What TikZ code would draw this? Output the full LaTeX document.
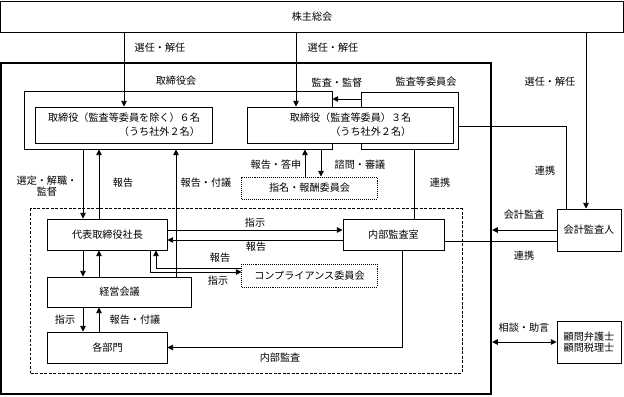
\documentclass[tikz,border=0pt]{standalone}
\usepackage{fontspec}
\setmainfont{Noto Sans CJK JP}
\usetikzlibrary{arrows.meta, positioning, calc}

\tikzset{
  box/.style={draw, line width=0.7pt, fill=white, inner sep=0pt, align=center},
  dotbox/.style={draw, line width=0.7pt, dash pattern=on 0.7pt off 0.7pt, fill=white, inner sep=0pt},
  lbl/.style={inner sep=0pt},
  arr/.style={-{Triangle[length=4pt,width=4pt]}, line width=0.6pt},
  dblarr/.style={{Triangle[length=4pt,width=4pt]}-{Triangle[length=4pt,width=4pt]}, line width=0.6pt},
  conn/.style={line width=0.6pt}
}

\begin{document}
\begin{tikzpicture}[x=0.025cm, y=-0.025cm, font=\fontsize{7.2pt}{10pt}\selectfont]
  \useasboundingbox (0,0) rectangle (624,396);

  % positions of the connector lines
  \coordinate (xa) at (83,0);   \coordinate (xb) at (99,0);
  \coordinate (xc) at (176,0);  \coordinate (xd) at (305,0);
  \coordinate (xe) at (321,0);  \coordinate (xf) at (296,0);
  \coordinate (xg) at (414,0);  \coordinate (xh) at (566,0);
  \coordinate (xi) at (586,0);  \coordinate (xj) at (150,0);
  \coordinate (xk) at (156,0);  \coordinate (xl) at (402,0);
  \coordinate (ya) at (0,99);   \coordinate (yb) at (0,126);
  \coordinate (yc) at (0,230);  \coordinate (yd) at (0,240);
  \coordinate (ye) at (0,268);  \coordinate (yf) at (0,272);
  \coordinate (yi) at (0,241);

  % Shareholders
  \node[box, minimum width=15.55cm, minimum height=0.775cm] (top) at (312,16.5) {株主総会};

  % Company frame
  \node[draw, line width=1.6pt, minimum width=12.25cm, minimum height=8.275cm, inner sep=0pt]
       (company) at (246,228.5) {};

  % Board and audit committee
  \node[box, minimum width=7.675cm, minimum height=1.45cm] (board) at (178.5,120) {};
  \node[box, minimum width=2.425cm, minimum height=1.425cm] (auditcom) at (409.5,120.5) {};
  \node[box, align=right, minimum width=4.4cm, minimum height=0.9cm] (dirsix) at (124,125)
       {取締役（監査等委員を除く）６名\\（うち社外２名）};
  \node[box, align=right, minimum width=5.125cm, minimum height=0.9cm] (dirthree) at (350.5,125)
       {取締役（監査等委員）３名\\（うち社外２名）};
  \node[dotbox, minimum width=3.375cm, minimum height=0.55cm] (nomcom) at (309.5,188)
       {指名・報酬委員会};

  % Executive group
  \node[draw, line width=0.7pt, dash pattern=on 2pt off 1.2pt, minimum width=10.775cm,
        minimum height=4.1cm, inner sep=0pt] (group) at (246.5,291) {};
  \node[box, minimum width=2.975cm, minimum height=0.775cm] (pres) at (107.5,234.5) {代表取締役社長};
  \node[box, minimum width=2.525cm, minimum height=0.775cm] (audit) at (393.5,234.5) {内部監査室};
  \node[box, minimum width=3.575cm, minimum height=0.75cm] (mgmt) at (119.5,292) {経営会議};
  \node[dotbox, minimum width=3.375cm, minimum height=0.575cm] (comp) at (309.5,275.5)
       {コンプライアンス委員会};
  \node[box, minimum width=2.975cm, minimum height=0.775cm] (depts) at (107.5,347.5) {各部門};

  % Outside parties
  \node[box, minimum width=1.6cm, minimum height=1.05cm] (accaud) at (589,230) {会計監査人};
  \node[box, minimum width=1.6cm, minimum height=1.05cm, font=\fontsize{7.2pt}{8.2pt}\selectfont]
       (advisors) at (589,342) {顧問弁護士\\顧問税理士};

  % Connectors
  \draw[arr] (top.south -| dirsix.north) -- (dirsix.north);
  \draw[arr] (top.south -| xf) -- (dirthree.north -| xf);
  \draw[arr] (top.south -| xi) -- (accaud.north -| xi);
  \draw[arr] (auditcom.west |- ya) -- (board.east |- ya);
  \draw[arr] (board.south -| xa) -- (pres.north -| xa);
  \draw[arr] (pres.north -| xb) -- (board.south -| xb);
  \draw[arr] (mgmt.north -| xc) -- (board.south -| xc);
  \draw[arr] (nomcom.north -| xd) -- (board.south -| xd);
  \draw[arr] (board.south -| xe) -- (nomcom.north -| xe);
  \draw[conn] (auditcom.south -| xg) -- (audit.north -| xg);
  \draw[conn] (auditcom.east |- yb) -| (accaud.north -| xh);
  \draw[arr] (pres.east |- yc) -- (audit.west |- yc);
  \draw[arr] (audit.west |- yd) -- (pres.east |- yd);
  \draw[arr] (pres.south -| xj) |- (comp.west |- yf);
  \draw[arr] (comp.west |- ye) -| (pres.south -| xk);
  \draw[arr] (pres.south -| xa) -- (mgmt.north -| xa);
  \draw[arr] (mgmt.north -| xb) -- (pres.south -| xb);
  \draw[arr] (mgmt.south -| xa) -- (depts.north -| xa);
  \draw[arr] (depts.north -| xb) -- (mgmt.south -| xb);
  \draw[arr] (audit.south -| xl) |- (depts.east);
  \draw[arr] (accaud.west) -- (company.east |- accaud.west);
  \draw[conn] (audit.east |- yi) -- (accaud.west |- yi);
  \draw[dblarr] (company.east |- advisors.west) -- (advisors.west);

  % Labels
  \node[lbl] (lsela) at (160,48) {選任・解任};
  \node[lbl] (lselb) at (333,48) {選任・解任};
  \node[lbl] (lselc) at (550,82) {選任・解任};
  \node[lbl] (lboard) at (176,81) {取締役会};
  \node[lbl] (lsup) at (337,83) {監査・監督};
  \node[lbl] (lacom) at (426,82) {監査等委員会};
  \node[lbl, align=center, font=\fontsize{7.2pt}{8.2pt}\selectfont] (lappoint) at (47,186)
       {選定・解職・\\監督};
  \node[lbl] (lrepa) at (123,183) {報告};
  \node[lbl] (lrepb) at (206,183) {報告・付議};
  \node[lbl] (lrepc) at (276,165) {報告・答申};
  \node[lbl] (lcons) at (360,165) {諮問・審議};
  \node[lbl] (llinka) at (440,183) {連携};
  \node[lbl] (llinkb) at (545,171) {連携};
  \node[lbl] (lacc) at (524,215) {会計監査};
  \node[lbl] (llinkc) at (524,256) {連携};
  \node[lbl] (ladv) at (524,328) {相談・助言};
  \node[lbl] (linsa) at (255,223) {指示};
  \node[lbl] (lrepd) at (256,247) {報告};
  \node[lbl] (lrepe) at (220,258) {報告};
  \node[lbl] (linsb) at (218,281) {指示};
  \node[lbl] (linsc) at (65,320) {指示};
  \node[lbl] (lrepf) at (135,320) {報告・付議};
  \node[lbl] (lia) at (280,358) {内部監査};
\end{tikzpicture}
\end{document}
